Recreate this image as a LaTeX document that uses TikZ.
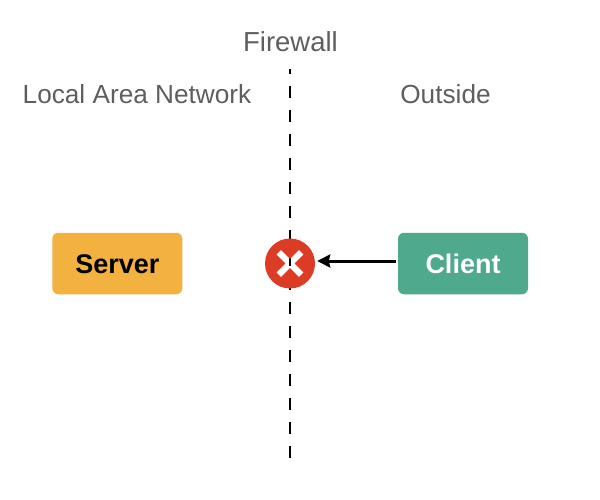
\documentclass[tikz,border=0pt]{standalone}
\usepackage{fontspec}
\setmainfont{Liberation Sans}
\usetikzlibrary{arrows.meta}
\definecolor{serverorange}{HTML}{F3B13F}
\definecolor{clientgreen}{HTML}{4FA98D}
\definecolor{blockred}{HTML}{DC3C26}
\definecolor{labelgray}{HTML}{5E5E5E}
\tikzset{
  zone/.style={text=labelgray, anchor=base, inner sep=0pt, font=\fontsize{26.2}{32}\selectfont},
  host/.style={rounded corners=6pt, minimum width=130pt, minimum height=61.5pt, inner sep=0pt,
    text height=19.5pt, text depth=0pt, font=\fontsize{27}{32}\selectfont\bfseries},
}
\begin{document}
\begin{tikzpicture}[x=1pt,y=-1pt]
  \useasboundingbox (0,0) rectangle (600,500);
  \coordinate (top) at (290,69);
  \coordinate (bottom) at (290,458);
  \draw[line width=2pt, dash pattern=on 12pt off 12pt, dash phase=7pt] (top) -- (bottom);
  \node[zone, font=\fontsize{27.5}{32}\selectfont] (firewall) at (290.5,52) {Firewall};
  \node[zone] (lan) at (137,104) {Local Area Network};
  \node[zone] (outside) at (445.5,104) {Outside};
  \node[host, fill=serverorange, text=black] (server) at (117.3,263.5) {Server};
  \node[host, fill=clientgreen, text=white] (client) at (463,263.5) {Client};
  % the cross is a hole, so the line shows through it
  \node[circle, minimum size=50pt, inner sep=0pt] (block) at (290,263.5) {};
  \fill[blockred, even odd rule] (block.center) circle (25pt)
    [shift={(block.center)}, rotate=45]
    (-16,-3.2) -- (-3.2,-3.2) -- (-3.2,-16) -- (3.2,-16) -- (3.2,-3.2) -- (16,-3.2)
    -- (16,3.2) -- (3.2,3.2) -- (3.2,16) -- (-3.2,16) -- (-3.2,3.2) -- (-16,3.2) -- cycle;
  \draw[-{Stealth[length=13pt,width=13pt,inset=1.5pt]}, line width=3pt, shorten <=2pt, shorten >=2pt]
    ([yshift=2.5pt]client.west) -- ([yshift=2.5pt]block.east);
\end{tikzpicture}
\end{document}
